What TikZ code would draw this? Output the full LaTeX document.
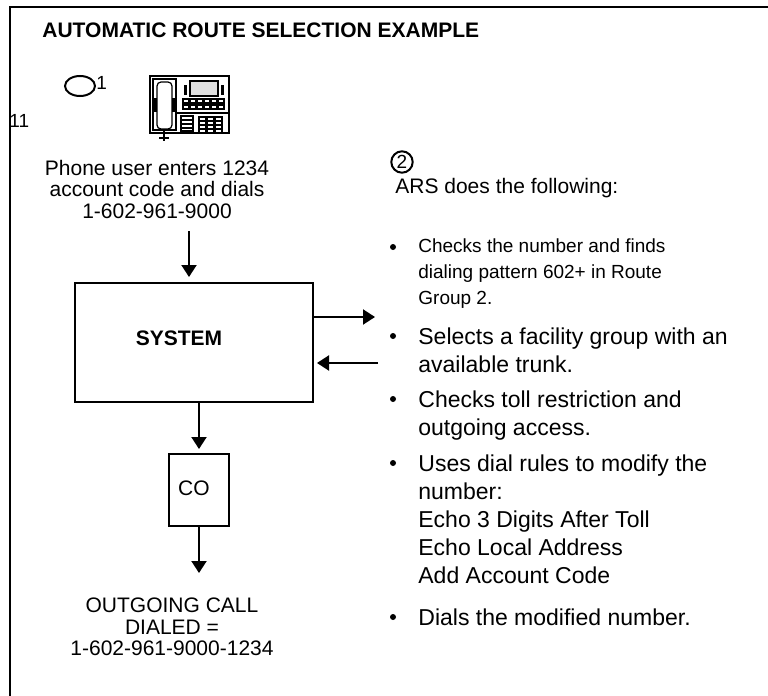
\documentclass[tikz,border=0pt]{standalone}
\usepackage{fontspec}
\setmainfont{Liberation Sans}
\usetikzlibrary{arrows.meta,positioning,calc,shapes.geometric}

\tikzset{
    box/.style={draw, line width=1pt, inner sep=0pt},
    flow/.style={-{Triangle[length=6pt,width=7.5pt]}, line width=1pt},
    body/.style={font=\fontsize{10.5}{10.75}\selectfont, inner sep=0pt},
    big/.style={font=\fontsize{11.5}{14}\selectfont, inner sep=0pt, align=left, anchor=north west},
}

\begin{document}
\begin{tikzpicture}[x=0.5pt, y=-0.5pt, >=stealth]
    \useasboundingbox (0,0) rectangle (768,696);
    \draw [line width=1.35pt] (768,7) -- (10,7) -- (10,696);

    \node [body, font=\fontsize{10.5}{10.75}\bfseries, anchor=north west] (title) at (42,22)
        {AUTOMATIC ROUTE SELECTION EXAMPLE};

    % callout 1 and the phone
    \node [draw, ellipse, line width=1pt, minimum width=15pt, minimum height=10pt, inner sep=0pt] (mark1) at (80,86) {};
    \node [body, font=\fontsize{9.5}{10}\selectfont, anchor=west] (mark1num) at (96,83) {1};
    \node [body, font=\fontsize{9.5}{10}\selectfont, anchor=west] (page) at (9,121) {11};

    \begin{scope}[line width=0.6pt]
        \draw [line width=1pt] (150,76) rectangle (229,133);
        \draw (153,79) rectangle (176,130);
        \draw [rounded corners=2pt] (157,82) rectangle (172,129);
        \fill (154,98) rectangle (157,112);
        \fill (172,98) rectangle (175,112);
        \draw [line width=1pt] (164,129) -- (164,141) (159,138) -- (169,138);
        \draw (176,113) -- (229,113);
        \draw [fill=gray!25] (190,81) rectangle (218,96);
        \fill (184,85) rectangle (187,95);
        \fill (221,85) rectangle (224,95);
        \foreach \i in {0,...,5} {
            \draw (183+\i*7,99) rectangle +(6,4);
            \draw (183+\i*7,105) rectangle +(6,4);
        }
        \foreach \j in {0,...,3}
            \draw (181,116+\j*4) -- (193,116+\j*4);
        \draw (181,116) rectangle (193,131);
        \foreach \i in {0,1,2}
            \foreach \j in {0,...,3}
                \draw (199+\i*8,117+\j*4) rectangle +(7,3.5);
    \end{scope}

    \node [body, align=center, anchor=north] (caller) at (157,159.5)
        {Phone user enters 1234\\account code and dials\\1-602-961-9000};

    % main flow
    \node [box, minimum width=119pt, minimum height=59.5pt] (system) at (194,342.5) {};
    \node [body, font=\fontsize{10.5}{11}\bfseries] (systemlbl) at (179,338) {SYSTEM};
    \node [box, minimum width=30pt, minimum height=36pt] (co) at (199,490) {};
    \node [body] (colbl) at (194,488) {CO};
    \node [body, align=center, anchor=north] (result) at (172,597.5)
        {OUTGOING CALL\\DIALED =\\1-602-961-9000-1234};

    \coordinate (dial) at (189,231);
    \coordinate (toars) at (375,317);
    \coordinate (fromars) at (378,363);
    \coordinate (outcall) at (199,573);

    \draw [flow, shorten >=2.5pt] (dial) -- (dial |- system.north);
    \draw [flow] (system.east |- toars) -- (toars);
    \draw [flow, shorten >=1.5pt] (fromars) -- (system.east |- fromars);
    \draw [flow, shorten >=2pt] (co.north |- system.south) -- (co.north);
    \draw [flow] (co.south) -- (outcall);

    % what ARS does
    \node [draw, circle, line width=1pt, inner sep=0.8pt, font=\fontsize{9.5}{10}\selectfont] (mark2) at (402,162) {2};
    \node [body, anchor=north west] (ars) at (395,177.5) {ARS does the following:};

    \node [big, font=\fontsize{9.5}{13}\selectfont] (step1) at (418,238)
        {Checks the number and finds\\dialing pattern 602+ in Route\\Group 2.};
    \node [big] (step2) at (418,327) {Selects a facility group with an\\available trunk.};
    \node [big] (step3) at (418,390) {Checks toll restriction and\\outgoing access.};
    \node [big] (step4) at (418,454)
        {Uses dial rules to modify the\\number:\\Echo 3 Digits After Toll\\Echo Local Address\\Add Account Code};
    \node [big] (step5) at (418,608) {Dials the modified number.};

    \foreach \s in {step1,step2,step3,step4,step5}
        \fill ($(\s.north west)+(-25,9)$) circle (3);
\end{tikzpicture}
\end{document}
